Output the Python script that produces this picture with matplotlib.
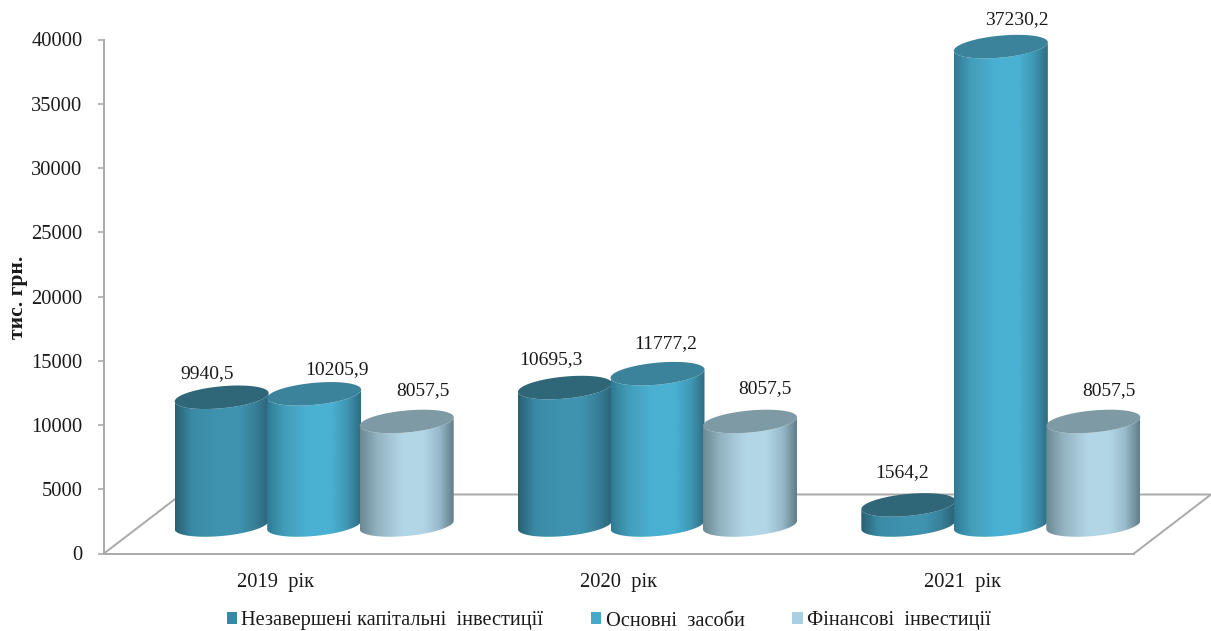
import numpy as np
import matplotlib
matplotlib.use("Agg")
import matplotlib.pyplot as plt
from matplotlib.colors import LinearSegmentedColormap
from matplotlib.patches import Patch, Polygon

# Chart values
years = ["2019  рік", "2020  рік", "2021  рік"]
series_names = ["Незавершені капітальні  інвестиції", "Основні  засоби", "Фінансові  інвестиції"]
unfinished = [9940.5, 10695.3, 1564.2]
fixed_assets = [10205.9, 11777.2, 37230.2]
financial = [8057.5, 8057.5, 8057.5]
y_ticks = list(range(0, 40001, 5000))

# Appearance of each series: side gradient, top cap, legend swatch
side_stops = [
    ["#2a5f71", "#3a8aa5", "#3f93af", "#3f93af", "#388099", "#2b6477"],
    ["#2f7a93", "#429db9", "#4bb1d3", "#4bb1d3", "#3f98b5", "#2f6c82"],
    ["#6b8894", "#92b2c0", "#b3d6e6", "#b3d6e6", "#96b8c8", "#617d89"],
]
cap_colors = ["#2f6779", "#3a839b", "#7e9aa5"]
swatch_colors = ["#358ba6", "#46a9ca", "#a9d0e2"]

# Hand-placed value labels, offsets in pixels from the centre of each cap
label_dx = [[-15, 23, 16], [-14, 8, 15], [-6, 16, 16]]
label_dy = [[24, 24, 31], [28, 30, 33], [32, 27, 31]]

W, H = 1211, 631
AX_L, AX_R, AX_T, AX_B = 104, 1134, 39.5, 553.5
DEPTH_X, DEPTH_Y = 77, 59
BAR_W, BAR_STEP = 94, 92.5
CAP_B, CAP_S = 11, 4.2

fig = plt.figure(figsize=(W / 100, H / 100), dpi=100, facecolor="white")
plt.rcParams["font.family"] = ["Liberation Serif", "DejaVu Serif"]
ax = fig.add_axes([AX_L / W, 1 - AX_B / H, (AX_R - AX_L) / W, (AX_B - AX_T) / H])
ax.set_xlim(0, 3)
ax.set_ylim(0, 40000)

px_x = 3 / (AX_R - AX_L)          # data units per horizontal pixel
px_y = 40000 / (AX_B - AX_T)      # data units per vertical pixel

# Frame and floor of the 3-D box
GRAY = "#a9a9a9"
for s in ("top", "right"):
    ax.spines[s].set_visible(False)
for s in ("left", "bottom"):
    ax.spines[s].set_color(GRAY)
    ax.spines[s].set_linewidth(1.4)
dx, dy = DEPTH_X * px_x, DEPTH_Y * px_y
ax.plot([0, dx, 3 + dx, 3], [0, dy, dy, 0], color=GRAY, lw=1.4, clip_on=False, zorder=1,
        solid_joinstyle="miter")

ax.set_yticks(y_ticks)
ax.set_yticklabels([str(v) for v in y_ticks], fontsize=14.8, color="#1a1a1a")
ax.tick_params(axis="y", length=4, width=1.2, color=GRAY, pad=11.5)
ax.set_xticks([0.5, 1.5, 2.5])
ax.set_xticklabels(years, fontsize=14.8, color="#1a1a1a")
ax.tick_params(axis="x", length=0, pad=14)
fig.text(18 / W, 1 - 297 / H, "тис. грн.", rotation=90, ha="center", va="center",
         fontsize=15.5, fontweight="bold", color="#1a1a1a")

t = np.linspace(np.pi, 2 * np.pi, 60)


def arc(cx, cy, angles):
    xs = cx + BAR_W / 2 * px_x * np.cos(angles)
    ys = cy + (CAP_S * np.cos(angles) + CAP_B * np.sin(angles)) * px_y
    return np.column_stack([xs, ys])


def cylinder(cx, value, series, z):
    base = 0.5 * dy - 1 * px_y
    top = base + value
    lower = arc(cx, base, t)
    upper = arc(cx, top, t[::-1])
    body = Polygon(np.vstack([lower, upper]), closed=True, transform=ax.transData,
                   fc="none", ec="none", clip_on=False)
    ax.add_patch(body)
    cmap = LinearSegmentedColormap.from_list(
        "side", list(zip([0, 0.18, 0.45, 0.68, 0.85, 1], side_stops[series])))
    hw = BAR_W / 2 * px_x
    img = ax.imshow(np.linspace(0, 1, 256).reshape(1, -1), cmap=cmap, aspect="auto",
                    extent=[cx - hw, cx + hw, base - 20 * px_y, top + 20 * px_y],
                    zorder=z, interpolation="bilinear")
    # the depth offset carries the last cylinders past the axes box
    img.set_clip_box(fig.bbox)
    img.set_clip_path(body)
    full = np.linspace(0, 2 * np.pi, 120)
    ax.add_patch(Polygon(arc(cx, top, full), closed=True, fc=cap_colors[series], ec="none",
                         zorder=z + 0.1, clip_on=False))
    return top


values = [unfinished, fixed_assets, financial]
for g in range(len(years)):
    for s, vals in enumerate(values):
        cx = g + 0.5 + 0.5 * dx + (s - 1) * BAR_STEP * px_x
        top = cylinder(cx, vals[g], s, 3 + s)
        ax.text(cx + label_dx[g][s] * px_x, top + label_dy[g][s] * px_y,
                f"{vals[g]:.1f}".replace(".", ","), ha="center", va="center",
                fontsize=14, color="#1a1a1a", clip_on=False, zorder=10)

ax.set_xlim(0, 3)
ax.set_ylim(0, 40000)

handles = [Patch(fc=c, ec="none") for c in swatch_colors]
fig.legend(handles, series_names, ncols=3, loc="center left",
           bbox_to_anchor=(227 / W, 1 - 621 / H), frameon=False, fontsize=14.7,
           handlelength=0.5, handleheight=0.5, handletextpad=0.2,
           columnspacing=2.35, borderpad=0, borderaxespad=0, labelcolor="#1a1a1a")

fig.savefig("out.png", dpi=100)
